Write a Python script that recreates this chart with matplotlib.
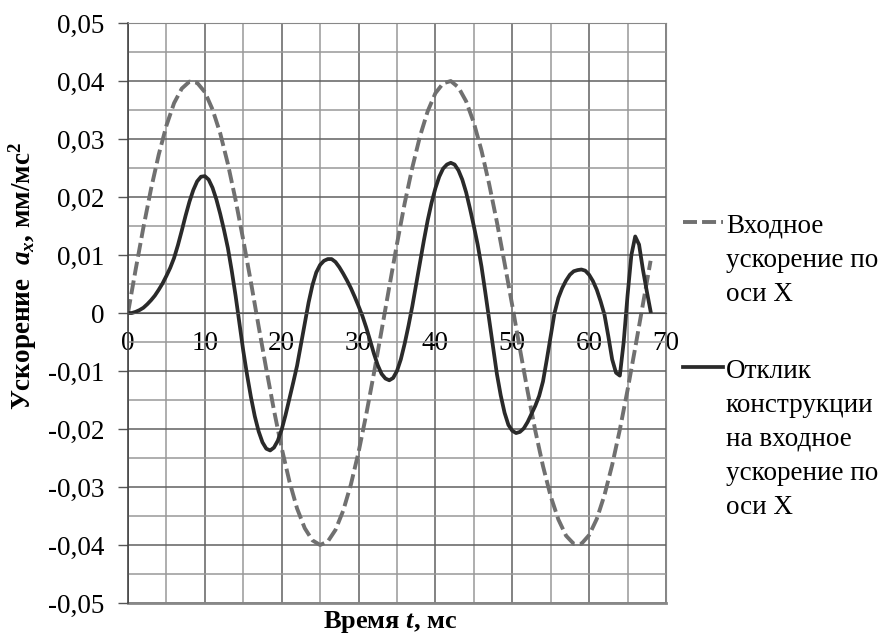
import matplotlib
matplotlib.use('Agg')
import matplotlib.pyplot as plt
from matplotlib.lines import Line2D
from matplotlib.ticker import MultipleLocator, FuncFormatter

plt.rcParams['font.family'] = 'Liberation Serif'
plt.rcParams['mathtext.fontset'] = 'custom'
plt.rcParams['mathtext.rm'] = 'Liberation Serif:bold'
plt.rcParams['mathtext.it'] = 'Liberation Serif:italic:bold'
plt.rcParams['mathtext.bf'] = 'Liberation Serif:bold'

# входное ускорение (пунктир), шаг 1 мс
a_in = [0.0, 0.0075, 0.0147, 0.0214, 0.0273, 0.0323, 0.0362, 0.0387, 0.0399, 0.0397,
        0.0381, 0.0351, 0.0310, 0.0257, 0.0195, 0.0126, 0.0053, -0.0023, -0.0097, -0.0168,
        -0.0233, -0.0290, -0.0337, -0.0371, -0.0392, -0.0400, -0.0394, -0.0374, -0.0341, -0.0296,
        -0.0240, -0.0175, -0.0104, -0.0030, 0.0045, 0.0119, 0.0189, 0.0251, 0.0305, 0.0348,
        0.0379, 0.0396, 0.0400, 0.0389, 0.0365, 0.0328, 0.0280, 0.0222, 0.0157, 0.0086,
        0.0013, -0.0062, -0.0135, -0.0203, -0.0264, -0.0316, -0.0356, -0.0384, -0.0398, -0.0398,
        -0.0383, -0.0355, -0.0314, -0.0262, -0.0201, -0.0133, -0.0060, 0.0015, 0.0090]
t_in = list(range(len(a_in)))

# отклик конструкции (сплошная), шаг 0,5 мс
a_out = [0.0, 0.0000, 0.0002, 0.0005, 0.0009, 0.0015, 0.0022, 0.0030, 0.0040, 0.0051,
         0.0064, 0.0078, 0.0095, 0.0117, 0.0142, 0.0168, 0.0192, 0.0212, 0.0227, 0.0235,
         0.0236, 0.0230, 0.0216, 0.0196, 0.0171, 0.0143, 0.0112, 0.0073, 0.0030, -0.0018,
         -0.0065, -0.0107, -0.0145, -0.0178, -0.0204, -0.0223, -0.0234, -0.0237, -0.0232, -0.0220,
         -0.0201, -0.0176, -0.0148, -0.0120, -0.0091, -0.0055, -0.0018, 0.0018, 0.0048, 0.0070,
         0.0083, 0.0090, 0.0093, 0.0093, 0.0088, 0.0079, 0.0068, 0.0056, 0.0043, 0.0028,
         0.0012, -0.0005, -0.0025, -0.0047, -0.0070, -0.0090, -0.0105, -0.0113, -0.0116, -0.0112,
         -0.0100, -0.0080, -0.0053, -0.0022, 0.0012, 0.0050, 0.0088, 0.0125, 0.0160, 0.0190,
         0.0215, 0.0235, 0.0249, 0.0256, 0.0259, 0.0256, 0.0246, 0.0230, 0.0208, 0.0180,
         0.0150, 0.0118, 0.0080, 0.0035, -0.0012, -0.0060, -0.0105, -0.0142, -0.0172, -0.0193,
         -0.0203, -0.0207, -0.0205, -0.0199, -0.0188, -0.0174, -0.0160, -0.0143, -0.0118, -0.0080,
         -0.0040, 0.0000, 0.0026, 0.0043, 0.0056, 0.0066, 0.0072, 0.0074, 0.0075, 0.0073,
         0.0066, 0.0055, 0.0040, 0.0020, -0.0003, -0.0040, -0.0080, -0.0103, -0.0108, -0.0050,
         0.0030, 0.0100, 0.0132, 0.0118, 0.0075, 0.0038, 0.0003]
t_out = [i / 2 for i in range(len(a_out))]

label_in = 'Входное\nускорение по\nоси X'
label_out = 'Отклик\nконструкции\nна входное\nускорение по\nоси X'

fig = plt.figure(figsize=(8.85, 6.38), dpi=100)
ax = fig.add_axes([0.1446, 0.0549, 0.6079, 0.909])

ax.plot(t_in, a_in, color='#707070', lw=2.8, dashes=(3.6, 1.3))
ax.plot(t_out, a_out, color='#2a2a2a', lw=2.7)

ax.set_xlim(0, 70)
ax.set_ylim(-0.05, 0.05)
ax.xaxis.set_major_locator(MultipleLocator(10))
ax.xaxis.set_minor_locator(MultipleLocator(5))
ax.yaxis.set_major_locator(MultipleLocator(0.01))
ax.yaxis.set_minor_locator(MultipleLocator(0.005))

def fmt(v, pos):
    if abs(v) < 1e-9:
        return '0'
    return ('%.2f' % v).replace('.', ',')

ax.yaxis.set_major_formatter(FuncFormatter(fmt))
ax.grid(which='major', color='#606060', lw=1.1)
ax.grid(which='minor', color='#999999', lw=1.1)
ax.set_axisbelow(True)

ax.spines['bottom'].set_position(('data', 0))
ax.spines['bottom'].set_color('#555555')
ax.spines['left'].set_color('#444444')
ax.spines['left'].set_linewidth(1.2)
for s in ['top', 'right']:
    ax.spines[s].set_color('#888888')
ax.axhline(-0.05, color='#888888', lw=2, clip_on=False)

ax.tick_params(axis='y', which='major', direction='out', length=7, width=1,
               color='#555555', labelsize=19.5, pad=10)
ax.tick_params(axis='x', which='major', length=0, labelsize=19.5, pad=13)
ax.tick_params(which='minor', length=0)

fig.text(390 / 885, 1 - 622 / 638, 'Время $t$, мс', ha='center', va='center',
         fontsize=19, fontweight='bold')
fig.text(23 / 885, 1 - 276 / 638, 'Ускорение  $a_x$, мм/мс$^2$', ha='center', va='center',
         rotation=90, fontsize=19.5, fontweight='bold')

# легенда справа
fig.add_artist(Line2D([683 / 885, 723 / 885], [1 - 222 / 638] * 2, color='#707070',
                      lw=2.8, dashes=(3.6, 1.3)))
fig.add_artist(Line2D([683 / 885, 723 / 885], [1 - 367 / 638] * 2, color='#2a2a2a', lw=2.7))
fig.text(726 / 885, 1 - 214 / 638, label_in, ha='left', va='top', fontsize=19.5, linespacing=1.47)
fig.text(726 / 885, 1 - 359 / 638, label_out, ha='left', va='top', fontsize=19.5, linespacing=1.47)

fig.savefig('out.png', dpi=100, facecolor='white')
